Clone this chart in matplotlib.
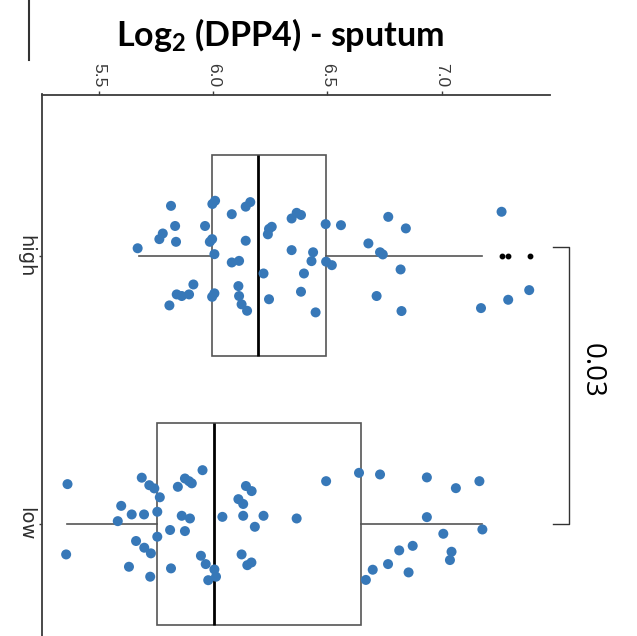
import matplotlib
matplotlib.use("Agg")
import matplotlib.pyplot as plt
from matplotlib.lines import Line2D

# ---- data -------------------------------------------------------------
categories = ["high", "low"]
category_pos = [0, 1]

high_values = [5.815, 5.996, 6.008, 6.081, 6.142, 6.162, 5.833, 5.964, 5.779, 5.764,
               5.837, 5.985, 5.995, 5.669, 6.005, 6.142, 6.081, 6.113, 5.913, 5.840,
               5.862, 5.894, 5.808, 6.005, 5.995, 6.110, 6.113, 6.124, 6.148, 6.220,
               6.244, 6.244, 6.256, 6.239, 6.343, 6.365, 6.384, 6.343, 6.437, 6.430,
               6.397, 6.384, 6.448, 6.492, 6.494, 6.519, 6.559, 6.766, 6.843, 6.679,
               6.730, 6.742, 6.820, 6.715, 6.824, 7.262, 7.172, 7.291, 7.383]
high_jitter = [-0.186, -0.193, -0.205, -0.155, -0.183, -0.200, -0.111, -0.111, -0.083, -0.062,
               -0.052, -0.052, -0.062, -0.028, -0.006, -0.056, 0.025, 0.019, 0.107, 0.144,
               0.150, 0.144, 0.185, 0.140, 0.153, 0.113, 0.150, 0.181, 0.205, 0.066,
               0.162, -0.100, -0.108, -0.080, -0.139, -0.160, -0.152, -0.021, -0.013, 0.020,
               0.066, 0.134, 0.211, -0.118, 0.022, 0.035, -0.114, -0.145, -0.102, -0.046,
               -0.013, -0.005, 0.051, 0.150, 0.206, -0.164, 0.195, 0.164, 0.128]

low_values = [5.362, 5.356, 5.687, 5.720, 5.742, 5.766, 5.597, 5.643, 5.697, 5.755,
              5.582, 5.755, 5.662, 5.698, 5.727, 5.631, 5.724, 5.811, 5.815, 5.845,
              5.876, 5.894, 5.906, 5.953, 5.862, 5.898, 5.876, 5.946, 5.967, 6.005,
              5.978, 6.012, 6.040, 6.143, 6.168, 6.110, 6.131, 6.131, 6.182, 6.124,
              6.149, 6.167, 6.220, 6.365, 6.494, 6.638, 6.730, 6.935, 7.062, 7.165,
              6.935, 7.007, 7.178, 6.814, 6.873, 7.043, 7.036, 6.765, 6.698, 6.668,
              6.855]
low_jitter = [-0.149, 0.113, -0.173, -0.145, -0.133, -0.100, -0.068, -0.036, -0.036, -0.046,
              -0.011, 0.047, 0.063, 0.088, 0.109, 0.159, 0.196, 0.022, 0.165, -0.139,
              -0.170, -0.160, -0.152, -0.201, -0.031, -0.021, 0.026, 0.118, 0.149, 0.169,
              0.209, 0.196, -0.027, -0.142, -0.123, -0.093, -0.075, -0.031, 0.010, 0.113,
              0.153, 0.143, -0.031, -0.021, -0.160, -0.191, -0.185, -0.174, -0.134, -0.160,
              -0.026, 0.036, 0.020, 0.098, 0.081, 0.103, 0.134, 0.149, 0.170, 0.208,
              0.180]

# box summaries: whisker low, Q1, median, Q3, whisker high, outliers
high_box = dict(whislo=5.675, q1=5.996, med=6.195, q3=6.493, whishi=7.175,
                fliers=[7.262, 7.291, 7.386])
low_box = dict(whislo=5.361, q1=5.753, med=6.003, q3=6.645, whishi=7.177, fliers=[])

value_ticks = [5.5, 6.0, 6.5, 7.0]
p_value_label = "0.03"
title_main = "Log"
title_rest = " (DPP4) - sputum"

# ---- figure -----------------------------------------------------------
W, H = 637, 636
fig = plt.figure(figsize=(W / 100, H / 100), dpi=100)
ax = fig.add_axes([41.7 / W, 0.0, (550 - 41.7) / W, 1 - 94.5 / H])

point_color = "#3778b8"
spine_color = "#3c3c3c"
box_color = "#555555"

stats = []
for lab, b in zip(categories, [high_box, low_box]):
    s = dict(b)
    s["label"] = lab
    stats.append(s)

ax.bxp(stats, positions=category_pos, widths=0.75, vert=False,
       showcaps=False, showfliers=True, patch_artist=True,
       boxprops=dict(facecolor="white", edgecolor=box_color, linewidth=1.2),
       whiskerprops=dict(color=box_color, linewidth=1.2),
       medianprops=dict(color="black", linewidth=2.0),
       flierprops=dict(marker="o", markersize=3.2, markerfacecolor="black",
                       markeredgecolor="black"),
       zorder=2)

for vals, jit, pos in [(high_values, high_jitter, category_pos[0]),
                       (low_values, low_jitter, category_pos[1])]:
    ax.scatter(vals, [pos + j for j in jit], s=52, color=point_color,
               edgecolors="none", zorder=3)

ax.set_xlim(5.249, 7.474)
ax.set_ylim(1.417, -0.601)

# axes styling: value axis on top, category axis on the left
ax.xaxis.tick_top()
ax.set_xticks(value_ticks)
ax.set_xticklabels([f"{v:.1f}" for v in value_ticks], rotation=-90,
                   fontsize=12.5, color="#383838", family="Liberation Sans")
ax.set_yticks(category_pos)
ax.set_yticklabels(categories, rotation=-90, fontsize=14, color="#2e2e2e",
                   family="DejaVu Sans", va="center")
ax.tick_params(axis="x", direction="out", length=2.7, width=1.0,
               color=spine_color, pad=2.5)
ax.tick_params(axis="y", direction="out", length=2.2, width=1.0,
               color=spine_color, pad=2.5)
for side in ["right", "bottom"]:
    ax.spines[side].set_visible(False)
for side in ["left", "top"]:
    ax.spines[side].set_color(spine_color)
    ax.spines[side].set_linewidth(1.3)

# significance bracket between the two groups
bx_in, bx_out = 7.487, 7.557
y_top, y_bot = -0.031, 0.998
ax.plot([bx_in, bx_out, bx_out, bx_in], [y_top, y_top, y_bot, y_bot],
        color="#333333", linewidth=1.0, clip_on=False, zorder=4)
ax.text(7.658, 0.426, p_value_label, rotation=-90, ha="center", va="center",
        fontsize=20, family="Open Sans", color="black", clip_on=False)

# title with subscript
plt.rcParams["mathtext.fontset"] = "custom"
plt.rcParams["mathtext.bf"] = "Lato:bold"
plt.rcParams["mathtext.rm"] = "Lato:bold"
fig.text(279.5 / W, 1 - 46.5 / H, title_main + r"$_{\mathbf{2}}$" + title_rest,
         ha="center", va="baseline", fontsize=24.5, fontweight="bold",
         family="Lato", color="black")

# short rule at the upper left
fig.add_artist(Line2D([29 / W, 29 / W], [1.0, 1 - 60 / H],
                      transform=fig.transFigure, color="#333333", linewidth=1.5))

fig.savefig("out.png", dpi=100)
